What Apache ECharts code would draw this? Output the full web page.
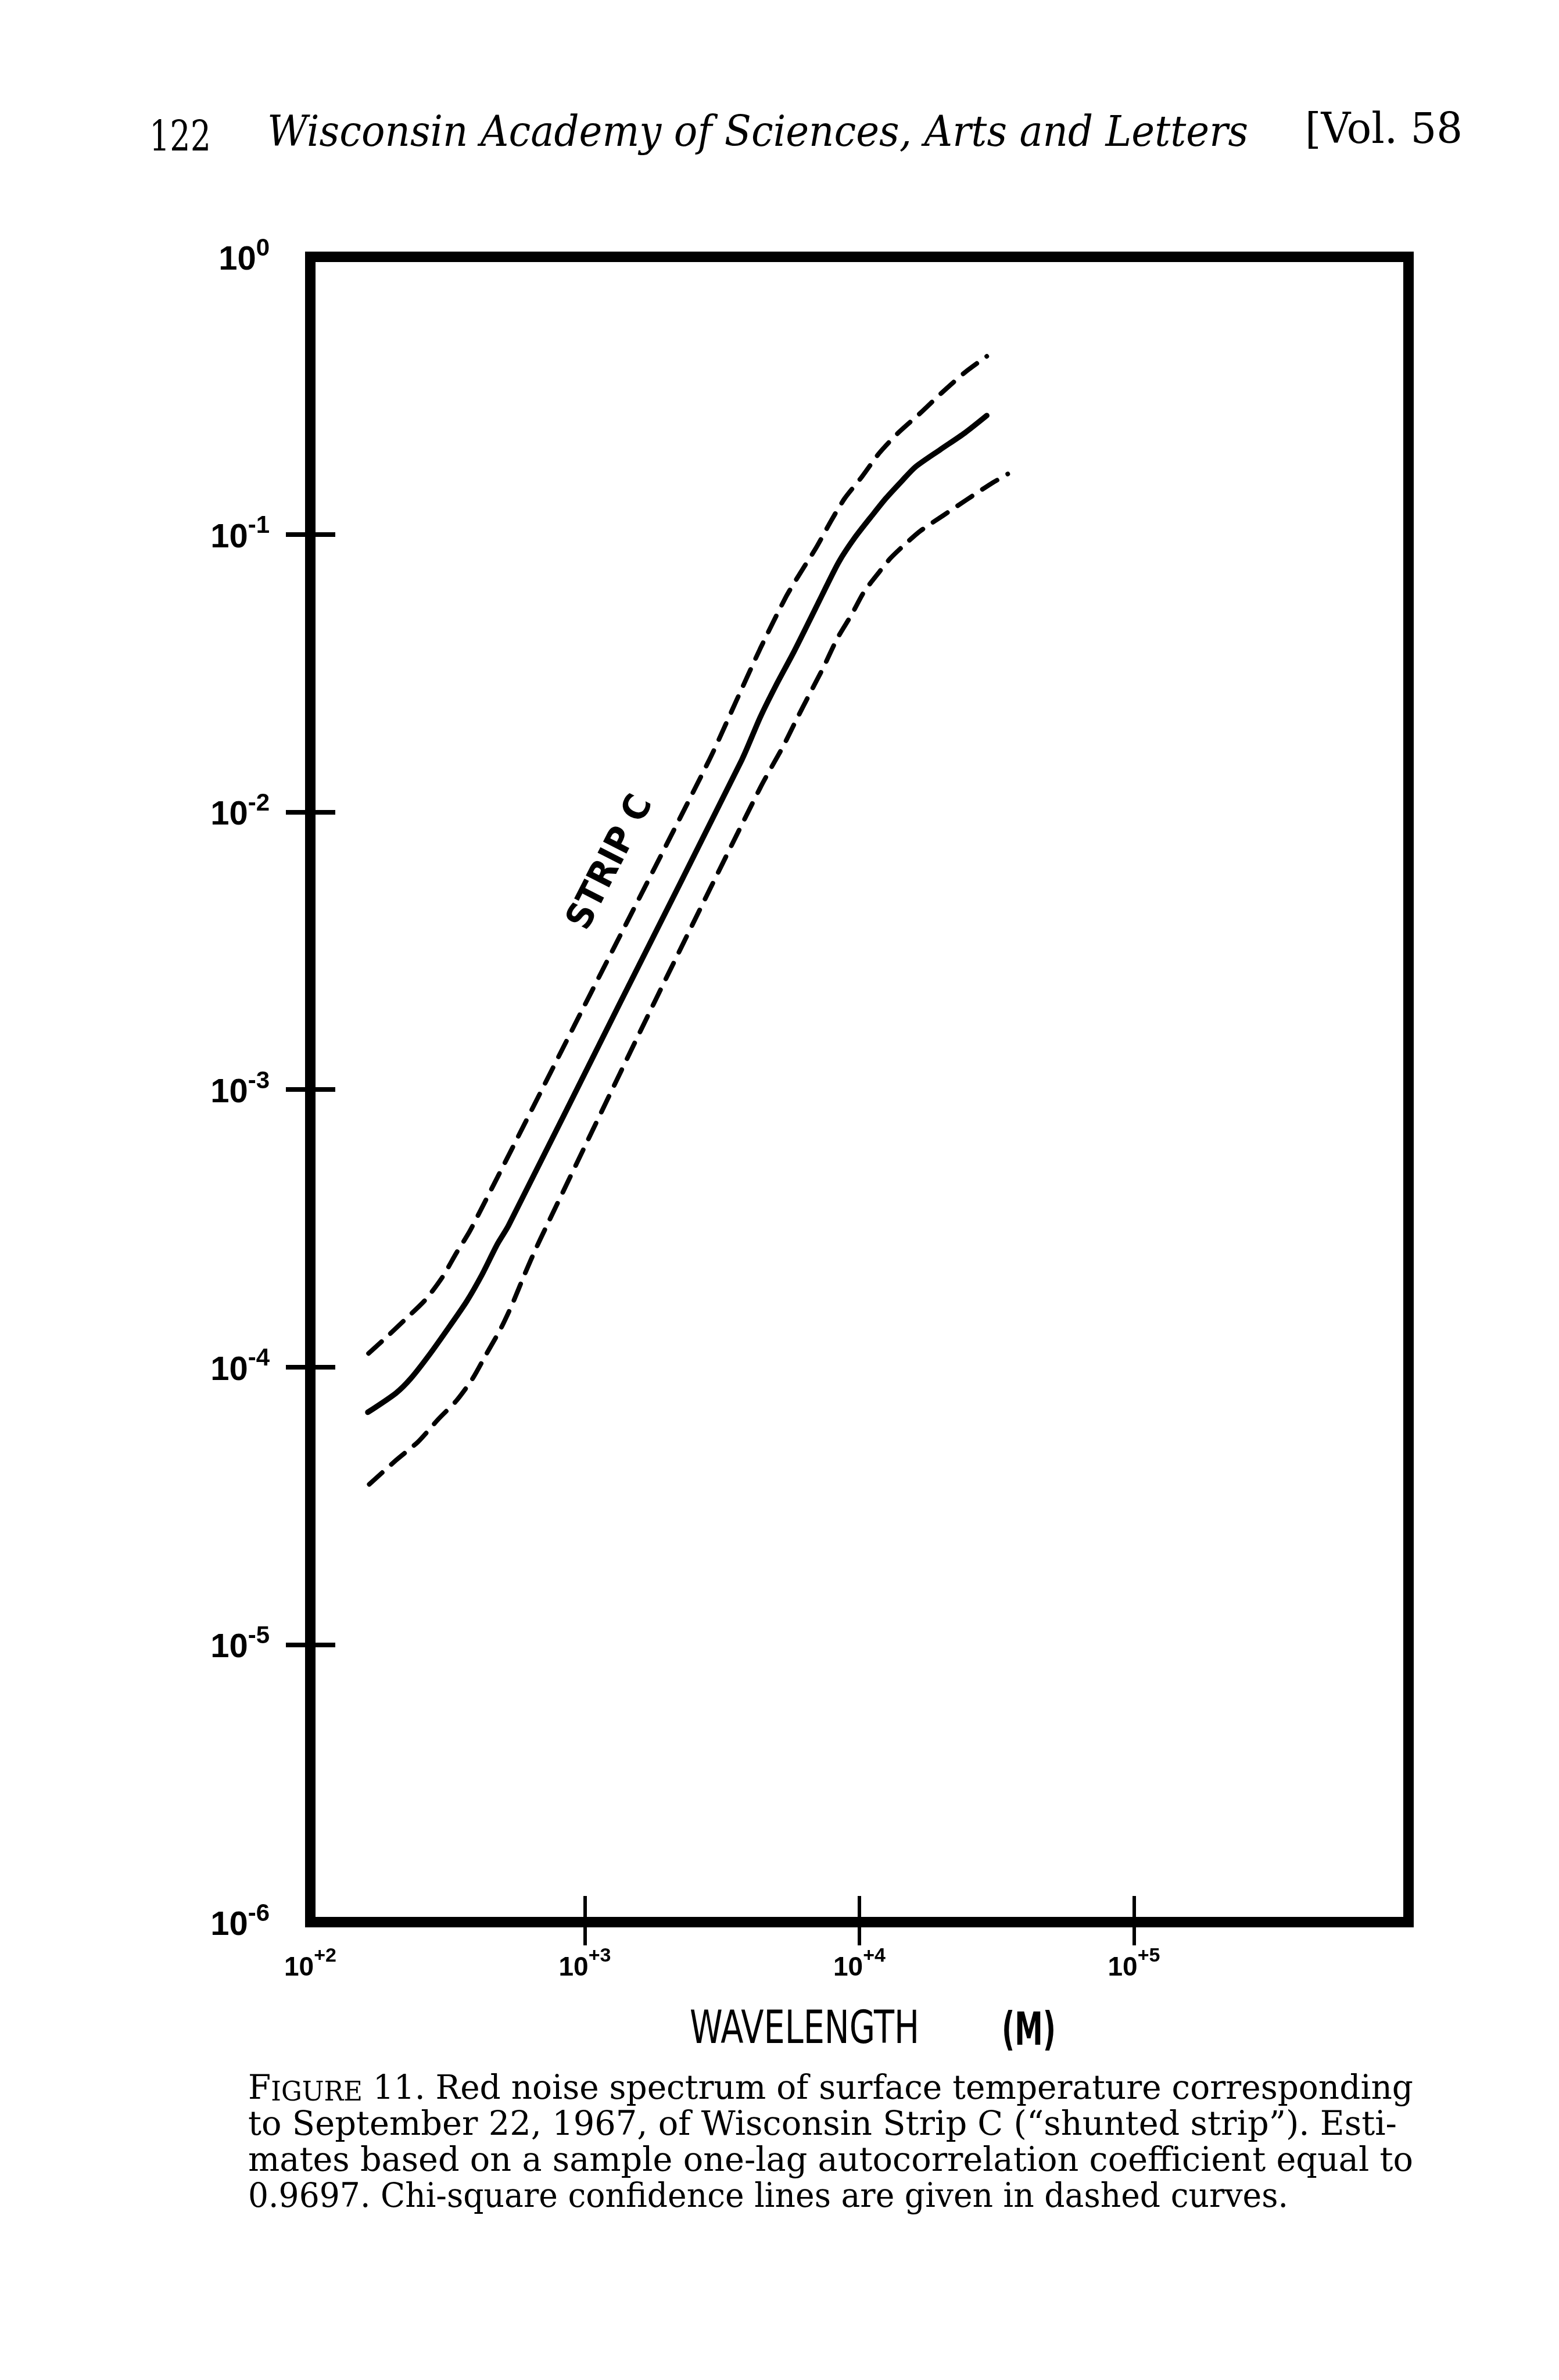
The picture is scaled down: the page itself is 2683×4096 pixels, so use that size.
<!DOCTYPE html>
<html>
<head>
<meta charset="utf-8">
<script src="https://cdn.jsdelivr.net/npm/echarts@6/dist/echarts.min.js"></script>
<style>
  html, body { margin: 0; padding: 0; background: #fff; }
  #chart { width: 2683px; height: 4096px; }
</style>
</head>
<body>
<div id="chart"></div>
<script>
// wavelength (m) and spectral estimate
const estWave = [162, 205, 232, 272, 323, 372, 422, 480, 527, 1330, 3730, 4350, 4980, 5730, 6560, 7330, 8400, 9620, 11200, 12500, 14300, 16000, 19700, 24200, 29100];
const estSpec = [6.87e-5, 8.05e-5, 9.08e-5, 1.11e-4, 1.41e-4, 1.73e-4, 2.15e-4, 2.77e-4, 3.23e-4, 2.01e-3, 1.54e-2, 2.19e-2, 2.87e-2, 3.72e-2, 4.86e-2, 6.07e-2, 7.93e-2, 9.73e-2, 0.118, 0.135, 0.156, 0.175, 0.202, 0.232, 0.268];

// upper chi-square confidence line
const upperWave = [163, 186, 221, 263, 303, 340, 384, 998, 2840, 3560, 4350, 5410, 6120, 6980, 7890, 8850, 10200, 11800, 13900, 16700, 19900, 24200, 29100];
const upperSpec = [1.12e-4, 1.26e-4, 1.48e-4, 1.75e-4, 2.11e-4, 2.57e-4, 3.13e-4, 2.01e-3, 1.54e-2, 2.51e-2, 3.87e-2, 5.97e-2, 7.31e-2, 9.00e-2, 0.112, 0.135, 0.161, 0.196, 0.233, 0.274, 0.323, 0.383, 0.438];

// lower chi-square confidence line
const lowerWave = [164, 205, 247, 294, 340, 390, 437, 493, 542, 605, 661, 721, 1770, 4350, 5270, 5870, 6560, 7410, 8300, 9380, 10400, 11800, 13000, 14800, 16700, 20200, 24500, 30100, 34700];
const lowerSpec = [3.78e-5, 4.61e-5, 5.38e-5, 6.52e-5, 7.55e-5, 9.08e-5, 1.11e-4, 1.37e-4, 1.67e-4, 2.17e-4, 2.65e-4, 3.18e-4, 2.01e-3, 1.22e-2, 1.72e-2, 2.13e-2, 2.64e-2, 3.33e-2, 4.21e-2, 5.15e-2, 6.21e-2, 7.31e-2, 8.22e-2, 9.29e-2, 0.103, 0.117, 0.133, 0.152, 0.165];

// axis ranges (decades)
const xRange = [1e2, 1e6];
const yRange = [1e-6, 1e0];
const xTickRange = [1e3, 1e5];   // ticks drawn across the bottom edge
const yTickRange = [1e-5, 1e-1]; // ticks drawn across the left edge

const headText = ['122', 'Wisconsin Academy of Sciences, Arts and Letters', '[Vol. 58'];
const capLines = [
  ' 11. Red noise spectrum of surface temperature corresponding',
  'to September 22, 1967, of Wisconsin Strip C (\u201cshunted strip\u201d). Esti-',
  'mates based on a sample one-lag autocorrelation coefficient equal to',
  '0.9697. Chi-square confidence lines are given in dashed curves.'
];
const xName = 'WAVELENGTH';
const xUnit = '(M)';
const curveLabel = 'STRIP C';

const INK = '#000';
const SERIF = '"DejaVu Serif", "Liberation Serif", serif';
const NARROW = '"Liberation Sans Narrow", "DejaVu Sans Condensed", "Liberation Sans", sans-serif';
const LAB = '"Liberation Sans", Arial, sans-serif';
const ROUND = '"DejaVu Sans", "Liberation Sans", sans-serif';

const G = { left: 534, top: 442, width: 1890, height: 2866 };
const decX = G.width / 4, decY = G.height / 6;

const mctx = document.createElement('canvas').getContext('2d');
function tw(str, font) { mctx.font = font; return mctx.measureText(str).width; }

// text stretched to the width it takes in the scan
function fitText(str, font, x, midY, width, extra) {
  return Object.assign({
    type: 'text', x: x, y: midY, scaleX: width / tw(str, font), silent: true,
    style: { text: str, font: font, fill: INK, align: 'left', verticalAlign: 'middle',
             textAlign: 'left', textVerticalAlign: 'middle' }
  }, extra || {});
}

const pairs = (xs, ys) => xs.map((x, i) => [x, ys[i]]);
const yLab = v => { const e = Math.round(Math.log10(v)); return '{b|10}{s|' + (e === 0 ? '0' : '-' + (-e)) + '}'; };
const xLab = v => '{b|10}{s|+' + Math.round(Math.log10(v)) + '}';

// header, caption
const hf = 72, cf = 58;
const cap0Width = tw('F', cf + 'px ' + SERIF) + tw('IGURE', '46px ' + SERIF) + tw(capLines[0], cf + 'px ' + SERIF);
const stripFont = 'bold 62px ' + ROUND;
const graphics = [
  fitText(headText[0], hf + 'px ' + SERIF, 257, 266 - 0.347 * hf, 106),
  fitText(headText[1], 'italic ' + hf + 'px ' + SERIF, 460, 257 - 0.347 * hf, 1688),
  fitText(headText[2], hf + 'px ' + SERIF, 2246, 252 - 0.347 * hf, 271),
  {
    type: 'text', x: 427, y: 3617 - 0.347 * cf, scaleX: 2005 / cap0Width, silent: true,
    style: {
      text: '{a|F}{b|IGURE}{a|' + capLines[0] + '}', fill: INK,
      align: 'left', verticalAlign: 'middle', textAlign: 'left', textVerticalAlign: 'middle',
      rich: {
        a: { fontFamily: SERIF, fontSize: cf, lineHeight: cf, verticalAlign: 'bottom', fill: INK },
        b: { fontFamily: SERIF, fontSize: 46, lineHeight: 50, verticalAlign: 'bottom', fill: INK }
      }
    }
  },
  fitText(capLines[1], cf + 'px ' + SERIF, 427, 3679 - 0.347 * cf, 1977),
  fitText(capLines[2], cf + 'px ' + SERIF, 427, 3741 - 0.347 * cf, 2005),
  fitText(capLines[3], cf + 'px ' + SERIF, 427, 3803 - 0.347 * cf, 1790),
  fitText(xName, '78px ' + NARROW, 1187, 3496, 395),
  fitText(xUnit, 'bold 78px ' + NARROW, 1724, 3499, 93),
  {
    type: 'text', x: 1052, y: 1485, rotation: 63 * Math.PI / 180, silent: true,
    scaleX: 250 / tw(curveLabel, stripFont),
    style: { text: curveLabel, font: stripFont, fill: INK, align: 'center', verticalAlign: 'middle',
             textAlign: 'center', textVerticalAlign: 'middle' }
  }
];

const tickAxis = (extra) => Object.assign({
  type: 'log', logBase: 10, axisLine: { show: false }, axisLabel: { show: false },
  splitLine: { show: false }, minorTick: { show: false }
}, extra);

const chart = echarts.init(document.getElementById('chart'));
chart.setOption({
  animation: false,
  backgroundColor: '#fff',
  textStyle: { fontFamily: LAB, color: INK },
  grid: [
    { left: G.left, top: G.top, width: G.width, height: G.height, show: true,
      borderColor: INK, borderWidth: 18, backgroundColor: 'transparent' },
    { left: G.left, top: G.top + decY, width: G.width, height: decY * 4 },
    { left: G.left + decX, top: G.top, width: decX * 2, height: G.height }
  ],
  xAxis: [
    { gridIndex: 0, type: 'log', logBase: 10, min: xRange[0], max: xRange[1], splitNumber: 4,
      axisLine: { show: false }, axisTick: { show: false }, splitLine: { show: false },
      axisLabel: { margin: 42, showMaxLabel: false, showMinLabel: true, formatter: xLab,
        rich: {
          b: { fontFamily: LAB, fontWeight: 'bold', fontSize: 46, lineHeight: 60, verticalAlign: 'bottom', color: INK },
          s: { fontFamily: LAB, fontWeight: 'bold', fontSize: 34, lineHeight: 34, verticalAlign: 'top', color: INK }
        } } },
    { gridIndex: 1, type: 'value', show: false },
    tickAxis({ gridIndex: 2, position: 'bottom', offset: 0, min: xTickRange[0], max: xTickRange[1], splitNumber: 2,
      axisTick: { show: true, inside: false, length: 40, lineStyle: { color: INK, width: 6 } } }),
    tickAxis({ gridIndex: 2, position: 'bottom', offset: 0, min: xTickRange[0], max: xTickRange[1], splitNumber: 2,
      axisTick: { show: true, inside: true, length: 45, lineStyle: { color: INK, width: 6 } } })
  ],
  yAxis: [
    { gridIndex: 0, type: 'log', logBase: 10, min: yRange[0], max: yRange[1], splitNumber: 6,
      axisLine: { show: false }, axisTick: { show: false }, splitLine: { show: false },
      axisLabel: { margin: 70, align: 'right', showMinLabel: true, showMaxLabel: true, formatter: yLab,
        rich: {
          b: { fontFamily: LAB, fontWeight: 'bold', fontSize: 58, lineHeight: 70, verticalAlign: 'bottom', color: INK },
          s: { fontFamily: LAB, fontWeight: 'bold', fontSize: 42, lineHeight: 42, verticalAlign: 'top', color: INK }
        } } },
    tickAxis({ gridIndex: 1, position: 'left', offset: 0, min: yTickRange[0], max: yTickRange[1], splitNumber: 4,
      axisTick: { show: true, inside: false, length: 42, lineStyle: { color: INK, width: 8 } } }),
    tickAxis({ gridIndex: 1, position: 'left', offset: 0, min: yTickRange[0], max: yTickRange[1], splitNumber: 4,
      axisTick: { show: true, inside: true, length: 43, lineStyle: { color: INK, width: 8 } } }),
    { gridIndex: 2, type: 'value', show: false }
  ],
  series: [
    { name: 'estimate', type: 'line', xAxisIndex: 0, yAxisIndex: 0, data: pairs(estWave, estSpec),
      showSymbol: false, smooth: 0.25, silent: true,
      lineStyle: { color: INK, width: 9.5, cap: 'round', join: 'round' } },
    { name: 'upper', type: 'line', xAxisIndex: 0, yAxisIndex: 0, data: pairs(upperWave, upperSpec),
      showSymbol: false, smooth: 0.25, silent: true,
      lineStyle: { color: INK, width: 8, type: [30, 21], cap: 'round' } },
    { name: 'lower', type: 'line', xAxisIndex: 0, yAxisIndex: 0, data: pairs(lowerWave, lowerSpec),
      showSymbol: false, smooth: 0.25, silent: true,
      lineStyle: { color: INK, width: 8, type: [30, 21], cap: 'round' } }
  ],
  graphic: graphics
});
</script>
</body>
</html>
